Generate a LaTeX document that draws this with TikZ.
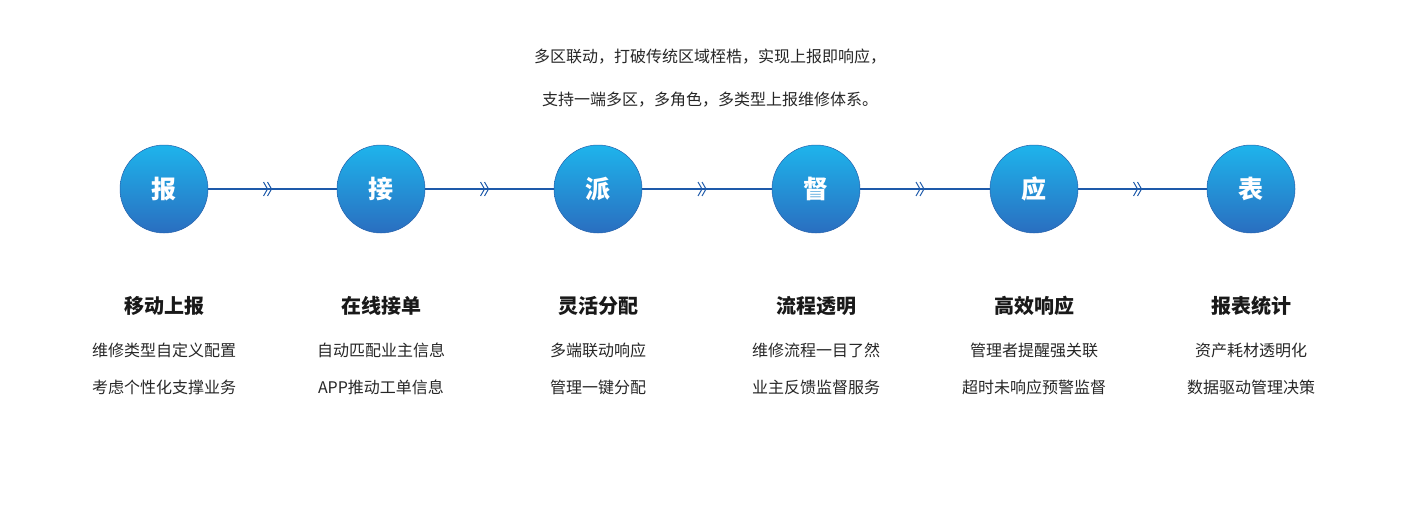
\documentclass[tikz,border=0pt]{standalone}
\usepackage{fontspec}
\setmainfont{Noto Sans CJK SC}
\definecolor{ctop}{RGB}{30,180,236}
\definecolor{cbot}{RGB}{42,110,192}
\definecolor{lnk}{RGB}{30,90,170}
\begin{document}
\begin{tikzpicture}[x=1pt,y=-1pt,
  stepcirc/.style={circle,minimum size=88pt,inner sep=0pt,top color=ctop,bottom color=cbot,draw=cbot!90!black,line width=0.5pt,text=white,font=\fontsize{25}{25}\selectfont\bfseries},
  link/.style={draw=lnk,line width=1.2pt},
  chev/.style={draw=lnk,line width=1pt},
  head/.style={font=\fontsize{20}{20}\selectfont\bfseries,text=black!90},
  sub/.style={font=\fontsize{16}{16}\selectfont,text=black!85},
  top/.style={font=\fontsize{16}{16}\selectfont,text=black!85}]
\useasboundingbox (0,0) rectangle (1420,524);
\node[top] (t1) at (710,57) {多区联动，打破传统区域桎梏，实现上报即响应，};
\node[top] (t2) at (710,100) {支持一端多区，多角色，多类型上报维修体系。};
\foreach \x/\c/\h/\a/\b [count=\i] in {
 164/报/移动上报/维修类型自定义配置/考虑个性化支撑业务,
 381/接/在线接单/自动匹配业主信息/APP推动工单信息,
 598/派/灵活分配/多端联动响应/管理一键分配,
 816/督/流程透明/维修流程一目了然/业主反馈监督服务,
 1034/应/高效响应/管理者提醒强关联/超时未响应预警监督,
 1251/表/报表统计/资产耗材透明化/数据驱动管理决策}{
  \node[stepcirc] (c\i) at (\x,189) {\c};
  \node[head] (h\i) at (\x,306) {\h};
  \node[sub] (a\i) at (\x,350) {\a};
  \node[sub] (b\i) at (\x,387) {\b};
}
\foreach \i/\j in {1/2,2/3,3/4,4/5,5/6}{
  \draw[link] (c\i) -- (c\j) coordinate[pos=0.5] (m\i);
  \draw[chev] ([xshift=-9pt,yshift=-7pt]m\i) -- ([xshift=-5pt]m\i) -- ([xshift=-9pt,yshift=7pt]m\i);
  \draw[chev] ([xshift=-5pt,yshift=-7pt]m\i) -- ([xshift=-1pt]m\i) -- ([xshift=-5pt,yshift=7pt]m\i);
}
\end{tikzpicture}
\end{document}
